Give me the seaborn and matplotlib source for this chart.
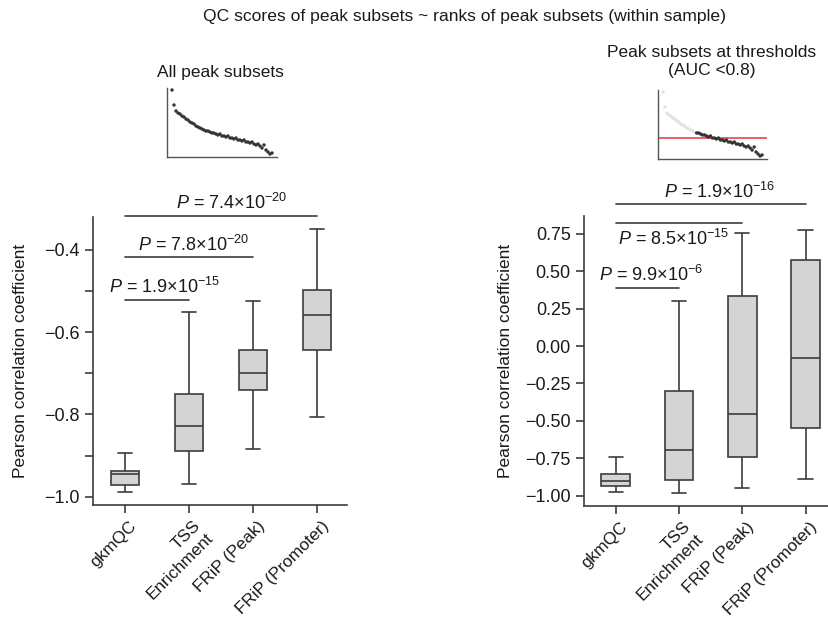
import numpy as np
import pandas as pd
import matplotlib
matplotlib.use("Agg")
import matplotlib.pyplot as plt
import matplotlib.transforms as mtransforms
import seaborn as sns

# ---------------- data ----------------
metrics = ["gkmQC", "TSS\nEnrichment", "FRiP (Peak)", "FRiP (Promoter)"]

# five-number summaries: [min, Q1, median, Q3, max]
left_gkmqc = [-0.988, -0.972, -0.944, -0.937, -0.893]
left_tss = [-0.968, -0.888, -0.827, -0.749, -0.551]
left_frip_peak = [-0.883, -0.740, -0.699, -0.644, -0.523]
left_frip_prom = [-0.805, -0.643, -0.559, -0.497, -0.350]

right_gkmqc = [-0.978, -0.936, -0.902, -0.855, -0.744]
right_tss = [-0.984, -0.896, -0.695, -0.300, 0.304]
right_frip_peak = [-0.951, -0.744, -0.454, 0.337, 0.759]
right_frip_prom = [-0.889, -0.550, -0.077, 0.576, 0.777]

left_pvals = ["1.9×10$^{-15}$", "7.8×10$^{-20}$", "7.4×10$^{-20}$"]
right_pvals = ["9.9×10$^{-6}$", "8.5×10$^{-15}$", "1.9×10$^{-16}$"]

# inset illustration: QC score vs rank of peak subsets
inset_scores = [67, 52, 46, 44, 43, 41, 40, 38, 37, 35, 34, 33, 31, 30, 29, 28,
                27, 26, 26, 25, 24, 24, 23, 22, 23, 21, 21, 20, 21, 19, 19, 18,
                19, 17, 17, 16, 17, 15, 15, 14, 15, 13, 12, 13, 11, 9, 12, 7, 5, 3, 4]
auc_line = 21
pass_cut = 26

title = "QC scores of peak subsets ~ ranks of peak subsets (within sample)"
ylabel = "Pearson correlation coefficient"

# ---------------- style ----------------
sns.set_theme(style="ticks")
plt.rcParams["font.family"] = ["Liberation Sans", "DejaVu Sans"]
plt.rcParams["mathtext.fontset"] = "custom"
plt.rcParams["mathtext.rm"] = "Liberation Sans"
plt.rcParams["mathtext.it"] = "Liberation Sans:italic"
plt.rcParams["mathtext.default"] = "regular"

TXT = "#1a1a1a"
LINE = "#3c3c3c"
FACE = "#d4d4d4"

fig = plt.figure(figsize=(8.29, 6.18), dpi=100)
W, H = 829, 618


def px_axes(x0, x1, ytop, ybot):
    return fig.add_axes([x0 / W, 1 - ybot / H, (x1 - x0) / W, (ybot - ytop) / H])


def make_df(groups):
    rows = []
    for m, vals in zip(metrics, groups):
        for v in vals:
            rows.append({"metric": m, "value": v})
    return pd.DataFrame(rows)


def draw_box(ax, groups):
    df = make_df(groups)
    sns.boxplot(data=df, x="metric", y="value", ax=ax, order=metrics,
                width=0.45, color=FACE, saturation=1, linecolor=LINE,
                linewidth=1.2, whis=(0, 100), showfliers=False)
    ax.set_xlabel("")
    ax.set_ylabel(ylabel, fontsize=12.5, color=TXT)
    for s in ["top", "right"]:
        ax.spines[s].set_visible(False)
    for s in ["left", "bottom"]:
        ax.spines[s].set_color(LINE)
        ax.spines[s].set_linewidth(1.2)
    ax.tick_params(axis="both", which="major", length=6, width=1.2,
                   color=LINE, labelsize=13, labelcolor=TXT)
    ax.tick_params(axis="x", which="major", pad=3.5)
    ax.tick_params(axis="y", which="minor", length=6, width=1.2, color=LINE)
    ax.set_xticks(range(len(metrics)))
    ax.set_xticklabels(metrics, rotation=45, ha="right", rotation_mode="anchor",
                       fontsize=12.3, color=TXT)
    off = mtransforms.ScaledTranslation(4 / 100, 0, fig.dpi_scale_trans)
    for lab in ax.get_xticklabels():
        lab.set_transform(lab.get_transform() + off)


def bracket(ax, x1, y, pval, tx, ty):
    ax.plot([0, x1], [y, y], color=LINE, lw=1.2, clip_on=False)
    ax.text(tx, ty, r"$\it{P}$ = " + pval, ha="center", va="center",
            fontsize=13, color=TXT, clip_on=False)


# ---------------- left main panel ----------------
axL = px_axes(93, 347, 217, 505)
draw_box(axL, [left_gkmqc, left_tss, left_frip_peak, left_frip_prom])
axL.set_xlim(-0.5, 3.47)
axL.set_ylim(-1.02, -0.32)
axL.set_yticks([-1.0, -0.8, -0.6, -0.4])
axL.set_yticks([-0.9, -0.7, -0.5], minor=True)
axL.set_yticklabels(["\u22121.0", "\u22120.8", "\u22120.6", "\u22120.4"])
axL.yaxis.set_label_coords(-0.256, 0.5)
bracket(axL, 1, -0.521, left_pvals[0], 0.62, -0.490)
bracket(axL, 2, -0.417, left_pvals[1], 1.07, -0.388)
bracket(axL, 3, -0.317, left_pvals[2], 1.66, -0.286)

# ---------------- right main panel ----------------
axR = px_axes(584, 829, 216, 506)
draw_box(axR, [right_gkmqc, right_tss, right_frip_peak, right_frip_prom])
axR.set_xlim(-0.5, 3.37)
axR.set_ylim(-1.07, 0.87)
rt = [-1.0, -0.75, -0.5, -0.25, 0.0, 0.25, 0.5, 0.75]
axR.set_yticks(rt)
axR.set_yticklabels([f"{v:.2f}".replace("-", "\u2212") for v in rt])
axR.yaxis.set_label_coords(-0.29, 0.5)
bracket(axR, 1, 0.391, right_pvals[0], 0.56, 0.476)
bracket(axR, 2, 0.822, right_pvals[1], 0.92, 0.717)
bracket(axR, 3, 0.950, right_pvals[2], 1.64, 1.03)

# ---------------- insets ----------------
ranks = np.arange(1, len(inset_scores) + 1)
inset_df = pd.DataFrame({"rank": ranks, "score": inset_scores})


def style_inset(ax):
    ax.set_xlim(-1.5, 53.5)
    ax.set_ylim(0, 69)
    ax.set_xticks([])
    ax.set_yticks([])
    ax.set_xlabel("")
    ax.set_ylabel("")
    for s in ["top", "right"]:
        ax.spines[s].set_visible(False)
    for s in ["left", "bottom"]:
        ax.spines[s].set_color("#555555")
        ax.spines[s].set_linewidth(1.0)


axI1 = px_axes(167, 277, 88, 157)
sns.scatterplot(data=inset_df, x="rank", y="score", ax=axI1, color="#333333",
                s=6, edgecolor="none", legend=False)
style_inset(axI1)

axI2 = px_axes(658, 767, 90, 159)
inset_df["pass"] = np.where(inset_df["score"] <= pass_cut, "below", "above")
sns.scatterplot(data=inset_df, x="rank", y="score", hue="pass", ax=axI2,
                palette={"below": "#333333", "above": "#e2e2e2"},
                s=6, edgecolor="none", legend=False)
axI2.axhline(auc_line, color="#e8474a", lw=1.2, zorder=0)
style_inset(axI2)

# ---------------- titles ----------------
fig.text(465 / W, 1 - 17 / H, title, ha="center", va="center", fontsize=12.6, color=TXT)
fig.text(220 / W, 1 - 73 / H, "All peak subsets", ha="center", va="center",
         fontsize=12.5, color=TXT)
fig.text(712 / W, 1 - 61.5 / H, "Peak subsets at thresholds\n(AUC <0.8)",
         ha="center", va="center", fontsize=12.5, color=TXT, linespacing=1.3)

fig.savefig("out.png", dpi=100)
